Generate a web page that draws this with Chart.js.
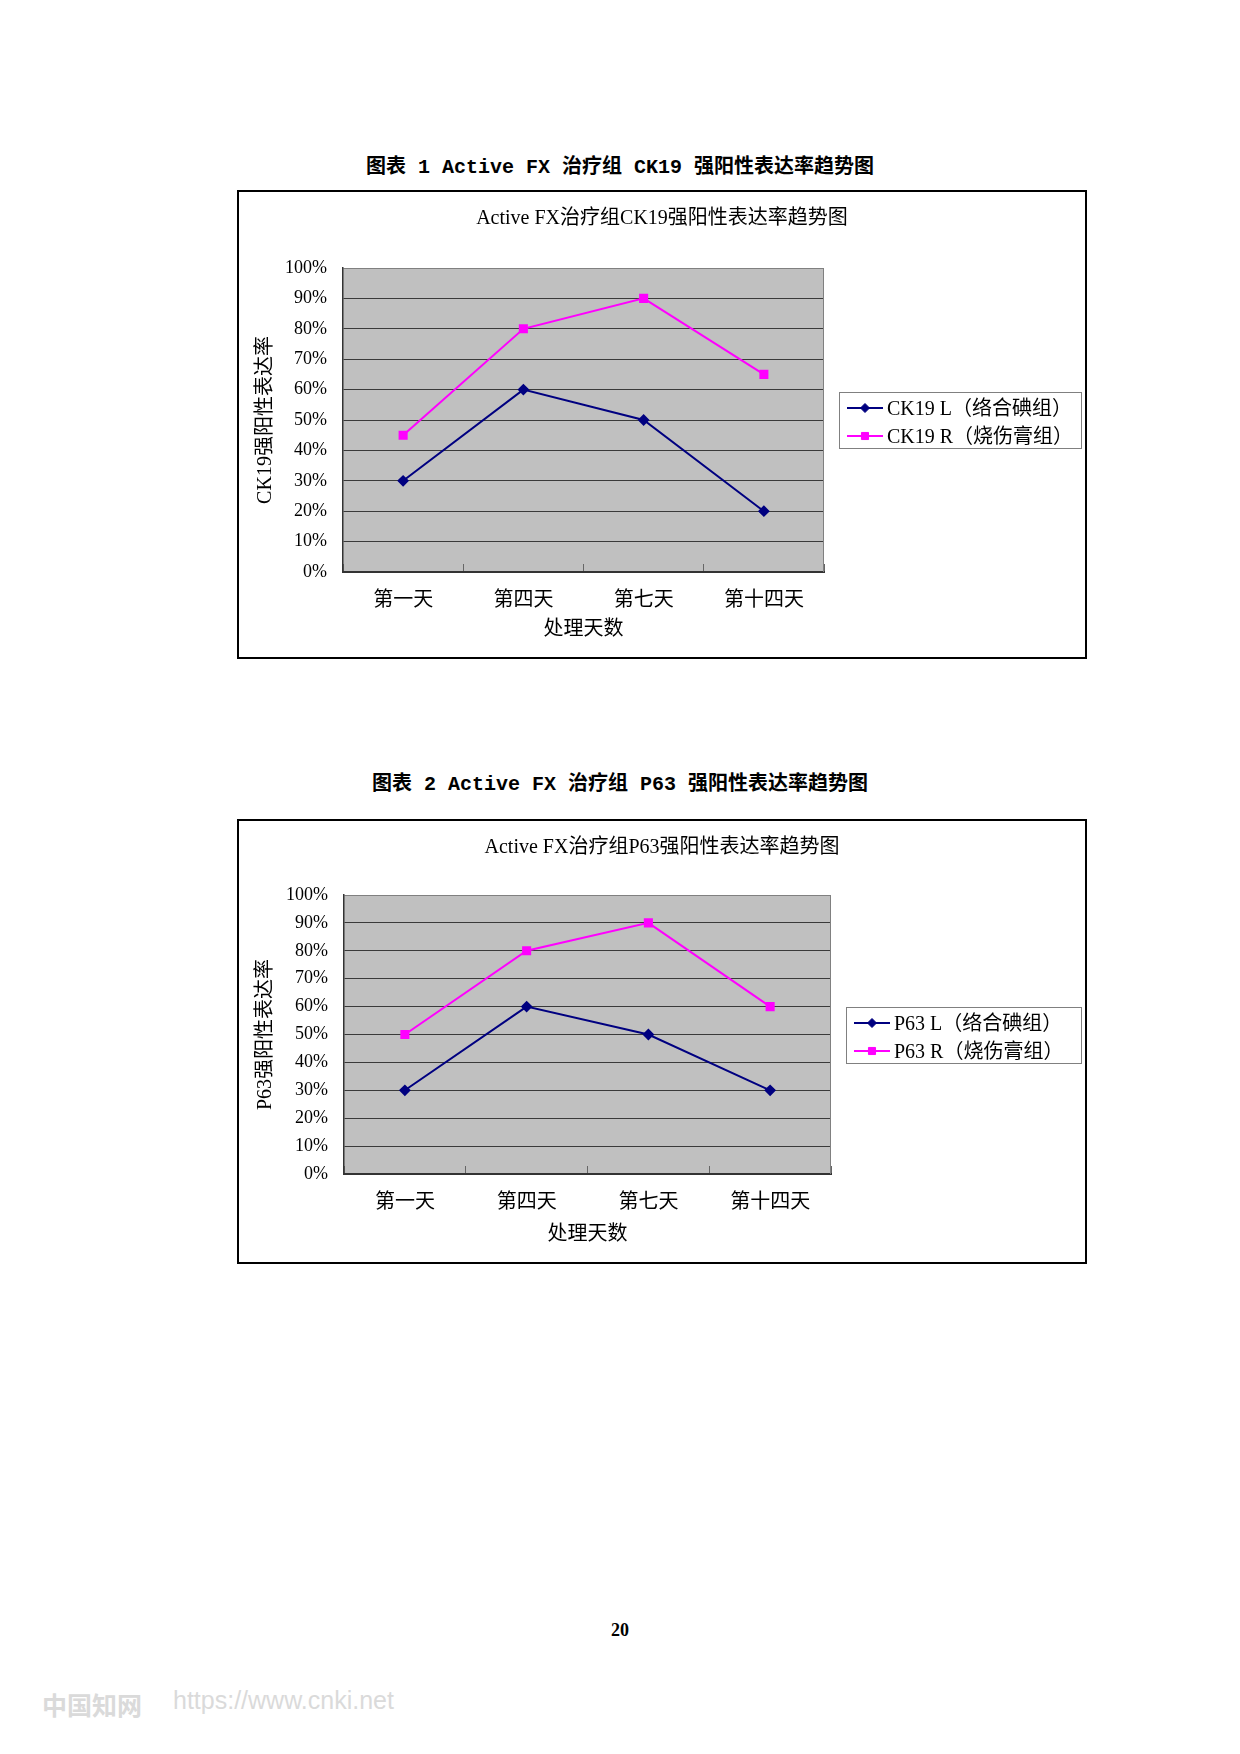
<!DOCTYPE html>
<html>
<head>
<meta charset="utf-8">
<script src="https://cdn.jsdelivr.net/npm/chart.js@4/dist/chart.umd.min.js"></script>
<style>
  body { margin: 0; background: #fff; }
  .page { position: relative; width: 1240px; height: 1754px; overflow: hidden; }
  .caption {
    position: absolute; left: 0; width: 1240px; text-align: center;
    font: bold 20px 'Liberation Mono', 'Noto Sans CJK SC', sans-serif;
    line-height: 24px; color: #000;
  }
  .frame { position: absolute; left: 237px; width: 846px; border: 2px solid #000; background: #fff; }
  .frame canvas { display: block; }
  .pageno {
    position: absolute; left: 0; width: 1240px; top: 1619px; text-align: center;
    font: bold 18px 'Liberation Serif', serif; line-height: 22px;
  }
  .mark {
    position: absolute; top: 1686px; color: #dadada; line-height: 30px; white-space: nowrap;
  }
</style>
</head>
<body>
<div class="page">
  <div class="caption" style="top:156px">图表 1 Active FX 治疗组 CK19 强阳性表达率趋势图</div>
  <div class="frame" style="top:190px; height:465px"><canvas id="ck19Chart" width="846" height="465"></canvas></div>

  <div class="caption" style="top:773px">图表 2 Active FX 治疗组 P63 强阳性表达率趋势图</div>
  <div class="frame" style="top:819px; height:441px"><canvas id="p63Chart" width="846" height="441"></canvas></div>

  <div class="pageno">20</div>
  <div class="mark" style="left:42px; font: bold 25px 'Noto Sans CJK SC', sans-serif;">中国知网</div>
  <div class="mark" style="left:173px; font: 25px 'Liberation Sans', sans-serif;">https://www.cnki.net</div>
</div>

<script>
// --- data ---
const days = ['第一天', '第四天', '第七天', '第十四天'];
const ck19L = [30, 60, 50, 20];
const ck19R = [45, 80, 90, 65];
const p63L = [30, 60, 50, 30];
const p63R = [50, 80, 90, 60];
const yTickValues = [0, 10, 20, 30, 40, 50, 60, 70, 80, 90, 100];

const NAVY = '#000080';
const MAGENTA = '#FF00FF';
const SERIF_CJK = "'Liberation Serif', 'Noto Sans CJK SC'";

// gray plot area + gray right edge, like the old Excel charts
const plotBackground = {
    id: 'plotBackground',
    beforeDraw(chart) {
        const { ctx, chartArea: a } = chart;
        ctx.save();
        ctx.fillStyle = '#C0C0C0';
        ctx.fillRect(a.left, a.top, a.right - a.left, a.bottom - a.top);
        ctx.restore();
    },
    beforeDatasetsDraw(chart) {
        const { ctx, chartArea: a } = chart;
        ctx.save();
        ctx.strokeStyle = '#808080';
        ctx.lineWidth = 1;
        ctx.beginPath();
        ctx.moveTo(Math.round(a.right) - 0.5, a.top);
        ctx.lineTo(Math.round(a.right) - 0.5, a.bottom);
        ctx.stroke();
        ctx.restore();
    }
};

// boxed legend on the right with line + marker samples
const boxedLegend = {
    id: 'boxedLegend',
    afterDraw(chart, args, opts) {
        const { ctx, chartArea: a } = chart;
        const sets = chart.data.datasets;
        const left = Math.round(a.right + opts.gap);
        const right = chart.width - opts.marginRight;
        const h = opts.rowHeight * sets.length + opts.padY * 2;
        const top = Math.round((a.top + a.bottom) / 2 - h / 2);

        ctx.save();
        ctx.fillStyle = '#fff';
        ctx.fillRect(left, top, right - left, h);
        ctx.strokeStyle = '#808080';
        ctx.lineWidth = 1;
        ctx.strokeRect(left + 0.5, top + 0.5, right - left, h);

        sets.forEach((ds, i) => {
            const y = top + opts.padY + opts.rowHeight * (i + 0.5) + opts.shiftY;
            const x0 = left + 8;
            const x1 = x0 + 36;
            ctx.strokeStyle = ds.borderColor;
            ctx.lineWidth = 2;
            ctx.beginPath();
            ctx.moveTo(x0, y);
            ctx.lineTo(x1, y);
            ctx.stroke();

            ctx.fillStyle = ds.pointBackgroundColor;
            ctx.lineWidth = 1;
            Chart.helpers.drawPoint(ctx, {
                pointStyle: ds.pointStyle,
                radius: ds.pointRadius,
                rotation: 0,
                borderWidth: 1
            }, (x0 + x1) / 2, y);

            ctx.fillStyle = '#000';
            ctx.font = `20px ${SERIF_CJK}`;
            ctx.textBaseline = 'middle';
            ctx.textAlign = 'left';
            ctx.fillText(ds.label, x1 + 4, y + 2);
        });
        ctx.restore();
    }
};

function makeChart(canvasId, title, yTitle, seriesL, seriesR, names, box) {
    const ctx = document.getElementById(canvasId).getContext('2d');
    return new Chart(ctx, {
        type: 'line',
        data: {
            labels: days,
            datasets: [
                {
                    label: names[0],
                    data: seriesL,
                    borderColor: NAVY,
                    backgroundColor: NAVY,
                    pointBackgroundColor: NAVY,
                    pointBorderColor: NAVY,
                    pointStyle: 'rectRot',
                    pointRadius: 4.5,
                    borderWidth: 2,
                    tension: 0
                },
                {
                    label: names[1],
                    data: seriesR,
                    borderColor: MAGENTA,
                    backgroundColor: MAGENTA,
                    pointBackgroundColor: MAGENTA,
                    pointBorderColor: MAGENTA,
                    pointStyle: 'rect',
                    pointRadius: 5,
                    borderWidth: 2,
                    tension: 0
                }
            ]
        },
        options: {
            responsive: false,
            animation: false,
            layout: { padding: 0 },
            plugins: {
                legend: { display: false },
                tooltip: { enabled: false },
                title: {
                    display: true,
                    text: title,
                    color: '#000',
                    font: { family: SERIF_CJK, size: 20, weight: 'normal', lineHeight: 1.2 },
                    padding: { top: box.titleTop, bottom: box.titleBottom }
                },
                boxedLegend: { gap: 15, marginRight: 4, rowHeight: 28, padY: 0, shiftY: 2 }
            },
            scales: {
                x: {
                    offset: true,
                    afterFit: (s) => { s.height = box.xHeight; },
                    grid: {
                        offset: true,
                        drawOnChartArea: false,
                        drawTicks: true,
                        tickLength: -8,
                        color: '#666'
                    },
                    border: { color: '#333', width: 2 },
                    ticks: {
                        color: '#000',
                        padding: 25,
                        maxRotation: 0,
                        font: { family: SERIF_CJK, size: 20, lineHeight: 1.2 }
                    },
                    title: {
                        display: true,
                        text: '处理天数',
                        color: '#000',
                        font: { family: SERIF_CJK, size: 20, lineHeight: 1.2 },
                        padding: { top: 0, bottom: 15 }
                    }
                },
                y: {
                    min: 0,
                    max: 100,
                    afterFit: (s) => { s.width = box.yWidth; },
                    afterBuildTicks: (s) => { s.ticks = yTickValues.map(v => ({ value: v })); },
                    grid: {
                        drawTicks: false,
                        color: (c) => c.tick && c.tick.value === 100 ? '#808080' : '#3a3a3a',
                        lineWidth: 1
                    },
                    border: { color: '#333', width: 1.5 },
                    ticks: {
                        color: '#000',
                        padding: 16,
                        font: { family: "'Liberation Serif'", size: 18 },
                        callback: (v) => `${v}%`
                    },
                    title: {
                        display: true,
                        text: yTitle,
                        color: '#000',
                        font: { family: SERIF_CJK, size: 20, lineHeight: 1.2 },
                        padding: { top: 15, bottom: 0 }
                    }
                },
                // empty right-hand axis that reserves room for the legend,
                // so the title stays centred on the whole frame
                legendRoom: {
                    type: 'linear',
                    position: 'right',
                    afterFit: (s) => { s.width = box.padRight; },
                    grid: { display: false },
                    border: { display: false },
                    ticks: { display: false }
                }
            }
        },
        plugins: [plotBackground, boxedLegend]
    });
}

const ck19Chart = makeChart(
    'ck19Chart',
    'Active FX治疗组CK19强阳性表达率趋势图',
    'CK19强阳性表达率',
    ck19L, ck19R,
    ['CK19 L（络合碘组）', 'CK19 R（烧伤膏组）'],
    { padRight: 261, titleTop: 15, titleBottom: 37, xHeight: 85, yWidth: 104 }
);

const p63Chart = makeChart(
    'p63Chart',
    'Active FX治疗组P63强阳性表达率趋势图',
    'P63强阳性表达率',
    p63L, p63R,
    ['P63 L（络合碘组）', 'P63 R（烧伤膏组）'],
    { padRight: 254, titleTop: 15, titleBottom: 35, xHeight: 88, yWidth: 105 }
);
</script>
</body>
</html>
